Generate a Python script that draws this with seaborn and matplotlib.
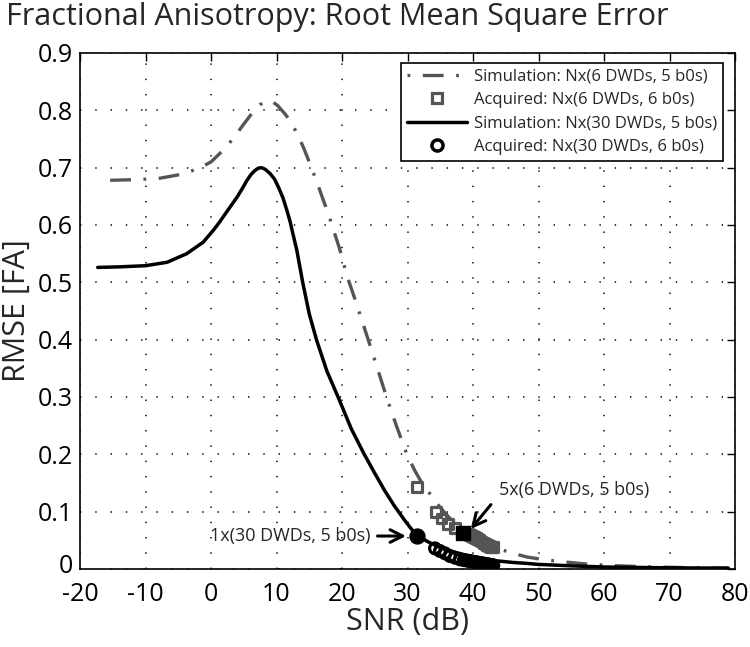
import matplotlib
matplotlib.use("Agg")
import matplotlib.pyplot as plt
import matplotlib.transforms as mtransforms
import seaborn as sns
import pandas as pd
from matplotlib.lines import Line2D

# ---------------- data ----------------
snr_sim6 = [-15.4, -12, -8.1, -4.7, -2, 0, 2, 3.4, 5, 6.4, 7.5, 8.5, 9.3, 10.2, 11.2,
            12.1, 13.3, 14.2, 15.1, 16.2, 17.0, 17.9, 18.8, 19.7, 20.8, 22, 24, 25.4,
            26.8, 28.3, 29.9, 31.1, 32.2, 33.7, 35, 36.5, 38.5, 40, 42, 44, 45.9, 48.2,
            51, 53.3, 57, 61, 66, 72, 79]
rmse_sim6 = [0.678, 0.679, 0.681, 0.688, 0.698, 0.710, 0.732, 0.751, 0.776, 0.797,
             0.810, 0.816, 0.816, 0.808, 0.795, 0.782, 0.756, 0.733, 0.707, 0.674,
             0.648, 0.620, 0.588, 0.556, 0.510, 0.470, 0.400, 0.350, 0.300, 0.250,
             0.200, 0.172, 0.150, 0.127, 0.107, 0.088, 0.067, 0.056, 0.044, 0.035,
             0.028, 0.021, 0.016, 0.013, 0.009, 0.006, 0.004, 0.0025, 0.0015]

snr_sim30 = [-17.3, -14, -10, -6.7, -3.7, -1.2, 0.3, 1.3, 2.4, 3.2, 4.0, 4.8, 5.5, 6.1,
             6.7, 7.2, 7.7, 8.3, 9.0, 9.7, 10.3, 11.0, 11.6, 12.1, 12.5, 13.1, 14.0,
             15.0, 16.1, 17.7, 19.4, 21.4, 23.4, 25.0, 26.5, 28.0, 29.5, 30.5, 31.4,
             32.3, 33.2, 34.5, 36.0, 38.3, 41, 43.4, 46, 48, 50, 55, 60, 70, 79]
rmse_sim30 = [0.526, 0.527, 0.529, 0.535, 0.550, 0.570, 0.590, 0.605, 0.623, 0.636,
              0.649, 0.664, 0.678, 0.688, 0.695, 0.699, 0.700, 0.697, 0.690, 0.680,
              0.666, 0.647, 0.625, 0.605, 0.585, 0.556, 0.500, 0.445, 0.400, 0.345,
              0.300, 0.245, 0.200, 0.167, 0.137, 0.110, 0.086, 0.071, 0.060, 0.053,
              0.047, 0.040, 0.033, 0.026, 0.019, 0.0145, 0.0115, 0.010, 0.008, 0.0055,
              0.0035, 0.002, 0.0015]

snr_acq6 = [31.4, 34.3, 35.2, 36.2, 37.25, 39.2, 39.5, 39.8, 40.1, 40.4, 40.7, 41.0,
            41.3, 41.6, 41.9, 42.2, 42.5, 42.8, 43.0]
rmse_acq6 = [0.143, 0.099, 0.088, 0.078, 0.071, 0.062, 0.060, 0.058, 0.056, 0.054,
             0.052, 0.050, 0.048, 0.046, 0.044, 0.042, 0.040, 0.039, 0.038]

snr_acq30 = [34.2, 34.96, 35.73, 36.49, 37.25, 38.0, 38.6, 39.1, 39.5, 39.9, 40.2,
             40.5, 40.8, 41.1, 41.4, 41.7, 42.0, 42.3, 42.6, 42.9, 43.1]
rmse_acq30 = [0.036, 0.0314, 0.0273, 0.0226, 0.0197, 0.0169, 0.0155, 0.0145, 0.0138,
              0.013, 0.0123, 0.0117, 0.0111, 0.0105, 0.0099, 0.0093, 0.0087, 0.0081,
              0.0075, 0.0069, 0.0064]

highlight_1x30 = (31.4, 0.0580)
highlight_5x6 = (38.5, 0.0622)

xticks = [-20, -10, 0, 10, 20, 30, 40, 50, 60, 70, 80]
yticks = [0, 0.1, 0.2, 0.3, 0.4, 0.5, 0.6, 0.7, 0.8, 0.9]
ytick_labels = ["0", "0.1", "0.2", "0.3", "0.4", "0.5", "0.6", "0.7", "0.8", "0.9"]

labels = ["Simulation: Nx(6 DWDs, 5 b0s)", "Acquired: Nx(6 DWDs, 6 b0s)",
          "Simulation: Nx(30 DWDs, 5 b0s)", "Acquired: Nx(30 DWDs, 6 b0s)"]

# ---------------- style ----------------
sns.set_style("white")
plt.rcParams["font.family"] = ["Open Sans", "DejaVu Sans"]
plt.rcParams["lines.scale_dashes"] = False
plt.rcParams["axes.unicode_minus"] = False

GRAY = "#555555"

fig = plt.figure(figsize=(7.5, 6.47), dpi=100)
ax = fig.add_axes([80 / 750, 1 - 569 / 647, (735 - 80) / 750, (569 - 53) / 647])

df6 = pd.DataFrame({"snr": snr_sim6, "rmse": rmse_sim6})
df30 = pd.DataFrame({"snr": snr_sim30, "rmse": rmse_sim30})

sns.lineplot(data=df6, x="snr", y="rmse", ax=ax, color=GRAY, linewidth=2.4,
             sort=False, estimator=None, zorder=3)
ax.lines[-1].set_dashes((15, 9, 2, 9))
sns.lineplot(data=df30, x="snr", y="rmse", ax=ax, color="black", linewidth=2.5,
             sort=False, estimator=None, zorder=3)

sns.scatterplot(x=snr_acq6, y=rmse_acq6, ax=ax, marker="s", s=50,
                facecolors="none", edgecolors=GRAY, linewidths=2.3, zorder=4)
sns.scatterplot(x=snr_acq30, y=rmse_acq30, ax=ax, marker="o", s=60,
                facecolors="none", edgecolors="black", linewidths=2.3, zorder=4)
sns.scatterplot(x=[highlight_5x6[0]], y=[highlight_5x6[1]], ax=ax, marker="s", s=95,
                color="black", edgecolor="black", linewidth=1, zorder=5)
sns.scatterplot(x=[highlight_1x30[0]], y=[highlight_1x30[1]], ax=ax, marker="o", s=115,
                color="black", edgecolor="black", linewidth=1, zorder=5)

# annotations
arrow_kw = dict(arrowstyle="->,head_length=0.9,head_width=0.45", color="black", lw=2.2)
ax.annotate("", xy=(30.2, 0.0575), xytext=(25.0, 0.0575), arrowprops=arrow_kw, zorder=6)
ax.text(24.4, 0.0575, "1x(30 DWDs, 5 b0s)", ha="right", va="center", fontsize=13)
ax.annotate("", xy=(39.4, 0.066), xytext=(43.0, 0.116), arrowprops=arrow_kw, zorder=6)
ax.text(44.0, 0.1376, "5x(6 DWDs, 5 b0s)", ha="left", va="center", fontsize=13)

ax.set_xlim(-20, 80)
ax.set_ylim(0, 0.9)
ax.set_xticks(xticks)
ax.set_yticks(yticks)
ax.set_yticklabels(ytick_labels)
ax.tick_params(direction="in", top=True, right=True, length=6, width=1,
               labelsize=18, colors="black")
ax.tick_params(axis="x", pad=9.5)
ax.tick_params(axis="y", pad=5)
ax.grid(True, color="black", linestyle=(0, (1, 10)), linewidth=1.1)
for sp in ax.spines.values():
    sp.set_color("black")
    sp.set_linewidth(1.2)

# nudge the "0" y tick label slightly up so it does not collide with "-20"
zero_lbl = ax.get_yticklabels()[0]
zero_lbl.set_transform(zero_lbl.get_transform() +
                       mtransforms.ScaledTranslation(0, 4 / 72, fig.dpi_scale_trans))

ax.set_xlabel("SNR (dB)", fontsize=22, labelpad=0)
ax.set_ylabel("RMSE [FA]", fontsize=22, labelpad=4)

handles = [
    Line2D([], [], color=GRAY, linewidth=2.4),
    Line2D([], [], color=GRAY, linestyle="none", marker="s", markersize=7,
           markerfacecolor="none", markeredgewidth=2.3),
    Line2D([], [], color="black", linewidth=2.5),
    Line2D([], [], color="black", linestyle="none", marker="o", markersize=8,
           markerfacecolor="none", markeredgewidth=2.5),
]
handles[0].set_dashes((2, 9, 15, 9))
leg = ax.legend(handles, labels, loc="upper right", fontsize=12, frameon=True,
                fancybox=False, framealpha=1, edgecolor="black", handlelength=3.6,
                labelspacing=0.45, borderpad=0.35, handletextpad=0.45,
                borderaxespad=0, bbox_to_anchor=(1 - 12 / 655, 1 - 10 / 516))
leg.get_frame().set_linewidth(1.2)

fig.text(6 / 750, 1 - 2 / 647, "Fractional Anisotropy: Root Mean Square Error",
         ha="left", va="top", fontsize=22)

fig.savefig("out.png", dpi=100)
